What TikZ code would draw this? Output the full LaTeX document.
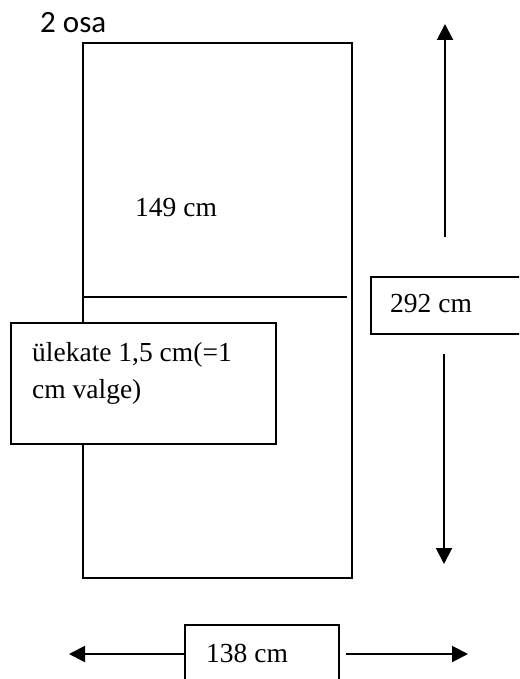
\documentclass[tikz,border=0pt]{standalone}
\usepackage{fontspec}
\setmainfont{Liberation Serif}
\newfontfamily\calib{Carlito}
\usetikzlibrary{arrows.meta}
\begin{document}
\begin{tikzpicture}[x=1pt,y=-1pt,
  boxline/.style={draw,line width=1.6pt},
  lbl/.style={anchor=base west,inner sep=0pt,font=\fontsize{27.5}{36}\selectfont},
  dimarrow/.style={line width=2pt,-{Triangle[length=16pt,width=16pt]}}]
\clip (0,0) rectangle (519,679);
\useasboundingbox (0,0) rectangle (519,679);
% main panel
\node[boxline,minimum width=269pt,minimum height=535pt,inner sep=0pt,anchor=north west] (panel) at (82,42) {};
\coordinate (seamL) at (82,297);
\coordinate (seamR) at (347,297);
\draw[line width=1.6pt] (seamL) -- (seamR);
% title
\node[anchor=base west,inner sep=0pt,font=\calib\fontsize{31}{36}\selectfont] (title) at (40,33) {2 osa};
% 149 cm
\node[lbl] (t149) at (135,216) {149 cm};
% overlap box
\node[boxline,fill=white,minimum width=265pt,minimum height=121pt,inner sep=0pt,anchor=north west] (ovl) at (10,322) {};
\node[lbl] (tovl1) at (32,361) {ülekate 1,5 cm(=1};
\node[lbl] (tovl2) at (32,398) {cm valge)};
% 292 box
\node[boxline,minimum width=170pt,minimum height=57pt,inner sep=0pt,anchor=north west] (b292) at (370,276) {};
\node[lbl] (t292) at (390,312) {292 cm};
% vertical arrows
\coordinate (upS) at (445,237);
\coordinate (upE) at (445,24);
\coordinate (dnS) at (444,354);
\coordinate (dnE) at (444,564);
\draw[dimarrow] (upS) -- (upE);
\draw[dimarrow] (dnS) -- (dnE);
% bottom box
\node[boxline,minimum width=154pt,minimum height=80pt,inner sep=0pt,anchor=north west] (b138) at (184,624) {};
\node[lbl] (t138) at (206,662) {138 cm};
\coordinate (lE) at (69,654);
\coordinate (rS) at (346,654);
\coordinate (rE) at (468,654);
\draw[dimarrow] (b138.west |- lE) -- (lE);
\draw[dimarrow] (rS) -- (rE);
\end{tikzpicture}
\end{document}
